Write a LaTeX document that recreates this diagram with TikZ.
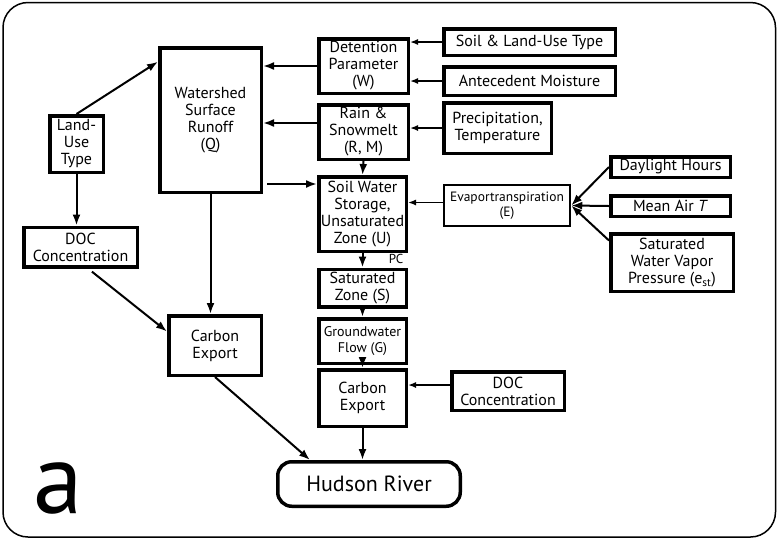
\documentclass[tikz,border=0pt]{standalone}
\usepackage{fontspec}
\setmainfont{PT Sans}
\usetikzlibrary{arrows.meta}
\begin{document}
\begin{tikzpicture}[x=1pt,y=-1pt,
  box/.style={draw, line width=3.5pt, align=center, inner sep=1pt,
    font=\fontsize{16}{17}\selectfont},
  thinbox/.style={box, line width=2pt},
  wh/.style 2 args={minimum width=#1pt-3.5pt, minimum height=#2pt-3.5pt},
  arr/.style={line width=2pt, -{Latex[length=11pt,width=8pt]}},
  sarr/.style={line width=1.5pt, -{Latex[length=8pt,width=6pt]}},
]
\useasboundingbox (0,0) rectangle (778,539);
% outer frame
\draw[line width=1.5pt, rounded corners=25pt] (3,2.5) rectangle (775.5,537);

% left and central column
\node[box, wh={105}{148}] (ws) at (210.5,120) {Watershed\\Surface\\Runoff\\(Q)};
\node[box, wh={57}{60}] (land) at (76.5,144) {Land-\\Use\\Type};
\node[box, wh={117}{43}] (docL) at (80.5,247) {DOC\\Concentration};
\node[box, wh={96}{63}] (ceL) at (215,345.5) {Carbon\\Export};

\node[box, wh={93}{58}] (det) at (363.5,66) {Detention\\Parameter\\(W)};
\node[box, wh={93}{58}] (rain) at (363.5,132) {Rain \&\\Snowmelt\\(R, M)};
\node[box, wh={91}{78}] (soil) at (362.5,214) {Soil Water\\Storage,\\Unsaturated\\Zone (U)};
\node[box, wh={91}{41}] (sat) at (362.5,288) {Saturated\\Zone (S)};
\node[box, wh={91}{48}, font=\fontsize{14}{16}\selectfont] (gw) at (362.5,341) {Groundwater\\Flow (G)};
\node[box, wh={91}{60}] (ceR) at (362.5,398) {Carbon\\Export};
\node[box, wh={186}{48}, rounded corners=14pt, font=\fontsize{22}{24}\selectfont] (hud) at (369,484) {Hudson River};

% right column of drivers
\node[box, wh={175}{30}] (slu) at (529.5,42) {Soil \& Land-Use Type};
\node[box, wh={175}{32}] (ant) at (529.5,81) {Antecedent Moisture};
\node[box, wh={111}{54}] (prec) at (497.5,128) {Precipitation,\\Temperature};
\node[thinbox, wh={130}{45}, font=\fontsize{13.5}{15}\selectfont] (evap) at (507,205.5) {Evaportranspiration\\(E)};
\node[box, wh={123}{24}] (day) at (670.5,167) {Daylight Hours};
\node[box, wh={123}{24}] (mean) at (670.5,206) {Mean Air \textit{T}};
\node[box, wh={126}{61}] (svp) at (672,262.5) {Saturated\\Water Vapor\\Pressure (e\textsubscript{st})};
\node[box, wh={116}{42}] (docR) at (508,391) {DOC\\Concentration};

\node[font=\fontsize{13}{14}\selectfont, inner sep=0pt] (pc) at (396,259) {PC};
\node[font=\fontsize{100}{100}\selectfont, inner sep=1pt, anchor=base] (lbl) at (58,513) {a};

% land-use and surface runoff paths
\draw[arr] (land.north) -- (ws.132);
\draw[arr] (land.south) -- (land.south |- docL.north);
\coordinate (docLout) at ([xshift=7.5pt]docL.south);
\coordinate (ceLin) at ([yshift=14pt]ceL.west);
\draw[arr, shorten <=5pt] (docLout) -- (ceLin);
\draw[arr] (ws.south) -- (ws.south |- ceL.north);
\coordinate (hudL) at ([xshift=-59pt]hud.north);
\draw[arr] (ceL.south) -- (hudL);

\draw[arr] (det.west) -- (det.west -| ws.east);
\coordinate (rainL) at ([yshift=9pt]rain.west);
\draw[arr] (rainL) -- (rainL -| ws.east);
\coordinate (soilL) at ([yshift=30pt]soil.west);
\draw[arr, shorten <=4pt] (soilL -| ws.east) -- (soilL);

% vertical chain
\draw[arr] (rain.south) -- (soil.north);
\draw[arr] (soil.south) -- (sat.north);
\draw[arr] (sat.south) -- (gw.north);
\draw[arr] (gw.south) -- (ceR.north);
\draw[arr] (ceR.south) -- (ceR.south |- hud.north);

% drivers into the central column
\draw[sarr] (slu.west) -- (slu.west -| det.east);
\draw[sarr] (ant.west) -- (ant.west -| det.east);
\draw[sarr] (prec.west) -- (prec.west -| rain.east);
\coordinate (evapL) at ([yshift=3pt]evap.west);
\draw[sarr] (evapL) -- (evapL -| soil.east);
\coordinate (docRL) at ([yshift=6pt]docR.west);
\draw[sarr] (docRL) -- (docRL -| ceR.east);

% inputs to evapotranspiration
\draw[arr] (day.west) -- (evap.east);
\draw[arr] (mean.west) -- (evap.east);
\coordinate (svpL) at ([yshift=22pt]svp.west);
\draw[arr] (svpL) -- (evap.east);
\end{tikzpicture}
\end{document}
